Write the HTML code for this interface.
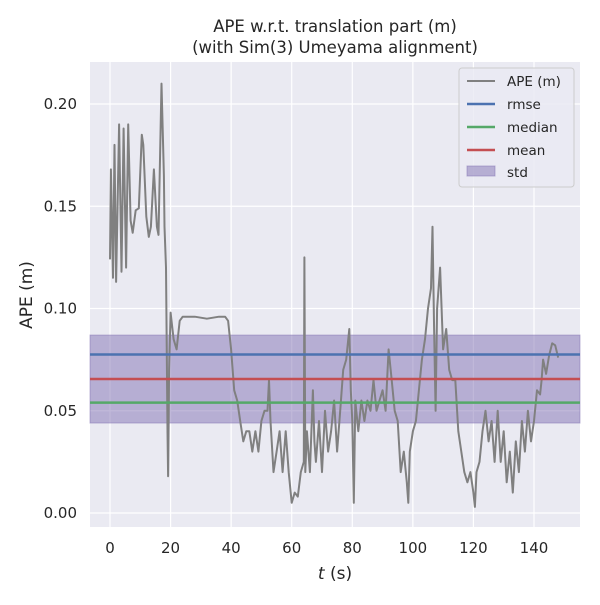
<!DOCTYPE html>
<html><head><meta charset="utf-8"><style>body{margin:0;background:#fff}svg{font-family:"DejaVu Sans","Liberation Sans",sans-serif}</style></head>
<body>
<svg id="c" width="600" height="600"></svg>
<script>
const times=[0,0.3,1,1.5,2,3,3.8,4.5,5.3,6,6.8,7.5,8.5,9.5,10.5,11,12,12.8,13.5,14.5,15.5,16,17,17.8,18,18.5,19,19.2,19.5,20,21,22,23,24,28,32,36,38,39,40,41,42,43,44,45,46,47,48,49,50,51,52,52.5,53,54,55,56,57,58,59,60,61,62,63,64,64.2,64.5,65,66,67,67.5,68,69,70,71,72,73,74,75,76,77,78,79,79.5,80,80.5,81,82,83,84,85,86,87,88,89,90,91,92,93,94,95,96,97,98,98.5,99,100,101,102,103,104,105,106,106.5,107,107.5,108,109,110,111,112,113,114,115,116,117,118,119,120,120.5,121,122,123,124,125,126,127,128,129,130,131,132,133,134,135,136,137,138,139,140,141,142,142.5,143,144,145,146,147,148];
const apeValues=[0.124,0.168,0.115,0.180,0.113,0.190,0.118,0.188,0.120,0.190,0.143,0.137,0.148,0.149,0.185,0.180,0.145,0.135,0.140,0.168,0.140,0.136,0.210,0.165,0.140,0.120,0.040,0.018,0.070,0.098,0.085,0.080,0.094,0.096,0.096,0.095,0.096,0.096,0.094,0.080,0.060,0.055,0.045,0.035,0.040,0.040,0.030,0.040,0.030,0.045,0.050,0.050,0.065,0.045,0.020,0.030,0.040,0.020,0.040,0.020,0.005,0.010,0.008,0.020,0.025,0.125,0.020,0.040,0.020,0.060,0.035,0.025,0.045,0.020,0.050,0.030,0.040,0.055,0.030,0.050,0.070,0.075,0.090,0.060,0.045,0.005,0.055,0.040,0.055,0.045,0.055,0.050,0.065,0.050,0.055,0.060,0.050,0.080,0.065,0.050,0.045,0.020,0.030,0.015,0.005,0.030,0.040,0.045,0.060,0.075,0.085,0.100,0.110,0.140,0.090,0.050,0.100,0.120,0.080,0.090,0.070,0.065,0.065,0.040,0.030,0.020,0.015,0.020,0.010,0.003,0.020,0.025,0.040,0.050,0.035,0.045,0.025,0.050,0.025,0.040,0.015,0.030,0.010,0.035,0.020,0.045,0.030,0.050,0.035,0.045,0.060,0.058,0.065,0.075,0.068,0.077,0.083,0.082,0.076];
const stats={rmse:0.0775,median:0.0540,mean:0.0655,stdLow:0.0440,stdHigh:0.0870};
const xTicks=[0,20,40,60,80,100,120,140];
const yTicks=[0.00,0.05,0.10,0.15,0.20];
const L=90,R=580,T=62,B=527;
const sx=t=>110+t*(534-110)/140;
const sy=v=>513-v*(513-104)/0.20;
const svg=document.getElementById('c');const NS='http://www.w3.org/2000/svg';
function mk(tag,attrs,parent){const e=document.createElementNS(NS,tag);for(const k in attrs)e.setAttribute(k,attrs[k]);(parent||svg).appendChild(e);return e;}
let bg=mk('rect',{x:L,y:T,width:R-L,height:B-T,fill:'#eaeaf2'});


xTicks.forEach(t=>{const g=mk('line',{x1:sx(t),x2:sx(t),y1:T,y2:B,stroke:'#fff','stroke-width':1.2});


const tx=mk('text',{x:sx(t),y:553,'text-anchor':'middle','font-size':15,fill:'#262626'});tx.textContent=t;

});
yTicks.forEach(v=>{const g=mk('line',{x1:L,x2:R,y1:sy(v),y2:sy(v),stroke:'#fff','stroke-width':1.2});


const tx=mk('text',{x:77,y:sy(v)+5,'text-anchor':'end','font-size':15,fill:'#262626'});tx.textContent=v.toFixed(2);

});
const band=mk('rect',{x:L,width:R-L,y:sy(stats.stdHigh),height:sy(stats.stdLow)-sy(stats.stdHigh),fill:'#8172b3','fill-opacity':0.5,stroke:'#8172b3','stroke-opacity':0.5});


const pts=times.map((t,i)=>sx(t).toFixed(1)+','+sy(apeValues[i]).toFixed(1)).join(' ');
const ln=mk('polyline',{points:pts,fill:'none',stroke:'#808080','stroke-width':2,'stroke-linejoin':'round'});


[['rmse','#4c72b0'],['mean','#c44e52'],['median','#55a868']].forEach(([k,c])=>{const h=mk('line',{x1:L,x2:R,y1:sy(stats[k]),y2:sy(stats[k]),stroke:c,'stroke-width':2.5});

});
</script>
<svg width="600" height="600" style="position:absolute;left:0;top:0">
<text x="335" y="32" text-anchor="middle" font-size="16.5" fill="#262626">APE w.r.t. translation part (m)</text>
<text x="335" y="53" text-anchor="middle" font-size="16.5" fill="#262626">(with Sim(3) Umeyama alignment)</text>
<text x="335" y="579" text-anchor="middle" font-size="17" fill="#262626"><tspan font-style="italic">t</tspan> (s)</text>
<text transform="translate(32,295) rotate(-90)" text-anchor="middle" font-size="17" fill="#262626">APE (m)</text>
<g>
<rect x="459" y="68" width="115" height="119" rx="3" fill="#eaeaf2" fill-opacity="0.8" stroke="#ccc"/>
<line x1="467" x2="495" y1="81" y2="81" stroke="#808080" stroke-width="2"/><text x="507" y="86" font-size="13.5" fill="#262626">APE (m)</text>
<line x1="467" x2="495" y1="104" y2="104" stroke="#4c72b0" stroke-width="2.5"/><text x="507" y="109" font-size="13.5" fill="#262626">rmse</text>
<line x1="467" x2="495" y1="127" y2="127" stroke="#55a868" stroke-width="2.5"/><text x="507" y="132" font-size="13.5" fill="#262626">median</text>
<line x1="467" x2="495" y1="150" y2="150" stroke="#c44e52" stroke-width="2.5"/><text x="507" y="155" font-size="13.5" fill="#262626">mean</text>
<rect x="467" y="166" width="28" height="10" fill="#8172b3" fill-opacity="0.5" stroke="#8172b3" stroke-opacity="0.5"/><text x="507" y="177" font-size="13.5" fill="#262626">std</text>
</g>
</svg>
</body></html>
